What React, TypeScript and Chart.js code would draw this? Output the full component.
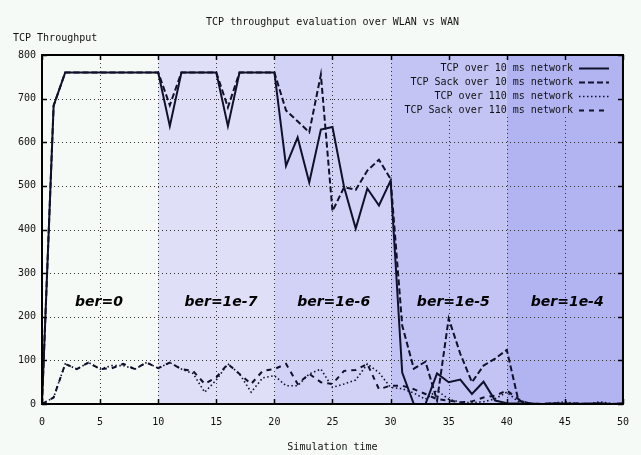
import React, { useEffect, useRef } from "react";
import { Chart, registerables } from "chart.js";

Chart.register(...registerables);

// ---- data ----
const timeX = [0,1,2,3,4,5,6,7,8,9,10,11,12,13,14,15,16,17,18,19,20,21,22,23,24,25,26,27,28,29,30,31,32,33,34,35,36,37,38,39,40,41,42,43,44,45,46,47,48,49,50];
const tcp10 =   [0,684,760,760,760,760,760,760,760,760,760,637,760,760,760,760,637,760,760,760,760,546,611,508,629,635,497,402,494,455,512,72,0,0,70,50,56,23,51,8,2,1,1,0,1,1,0,1,1,0,1];
const sack10 =  [0,684,760,760,760,760,760,760,760,760,760,685,760,760,760,760,680,760,760,760,760,673,648,623,755,442,497,491,535,560,516,180,81,97,8,196,115,50,88,104,124,8,1,0,1,0,1,0,1,0,1];
const tcp110 =  [0,15,92,80,95,80,88,88,80,95,82,95,80,70,27,55,92,69,27,60,65,42,42,69,80,38,46,55,92,72,38,35,25,11,31,11,4,3,5,12,27,5,1,0,2,5,1,0,5,1,0];
const sack110 = [0,15,92,80,95,80,82,92,80,95,82,95,80,76,46,61,92,69,46,76,80,92,46,69,50,46,76,78,92,34,42,42,34,23,11,8,4,6,15,19,31,11,0,0,1,0,1,0,1,0,0];

const seriesNames = [
  "TCP over 10 ms network",
  "TCP Sack over 10 ms network",
  "TCP over 110 ms network",
  "TCP Sack over 110 ms network",
];

const berLabels = ["ber=0", "ber=1e-7", "ber=1e-6", "ber=1e-5", "ber=1e-4"];
const berEdges = [0, 10, 20, 30, 40, 50];
const berLabelX = [4.9, 15.4, 25.1, 35.4, 45.2];
const berLabelY = 232;

const xTicks = [0, 5, 10, 15, 20, 25, 30, 35, 40, 45, 50];
const yTicks = [0, 100, 200, 300, 400, 500, 600, 700, 800];

const titleText = "TCP throughput evaluation over WLAN vs WAN";
const yTitleText = "TCP Throughput";
const xTitleText = "Simulation time";

// ---- styles ----
const BG = "#f5faf7";
const bandColors = ["#f5faf7", "#dfe0f7", "#d1d2f6", "#c3c4f4", "#b2b4f2"];
const LINE = "#10102a";
const dashes = [[], [6, 3], [1.5, 2.5], [5, 5]];
const widths = [2, 2, 1.6, 2];
const MONO = "'DejaVu Sans Mono', monospace";
const LEG = { left: 396, bottom: 117, textRight: 573, x0: 579, x1: 609, y0: 68, dy: 14 };

const decor = {
  id: "decor",
  beforeDraw(chart: any) {
    const { ctx, chartArea: a, scales } = chart;
    const x = scales.x, y = scales.y;
    ctx.save();
    ctx.fillStyle = BG;
    ctx.fillRect(0, 0, chart.width, chart.height);
    for (let i = 0; i < berEdges.length - 1; i++) {
      const x0 = x.getPixelForValue(berEdges[i]);
      const x1 = x.getPixelForValue(berEdges[i + 1]);
      ctx.fillStyle = bandColors[i];
      ctx.fillRect(x0, a.top, x1 - x0, a.bottom - a.top);
    }
    // dotted grid (kept clear of the key area)
    ctx.strokeStyle = "#333";
    ctx.lineWidth = 1;
    ctx.setLineDash([1, 3]);
    for (const v of xTicks) {
      if (v === xTicks[0] || v === xTicks[xTicks.length - 1]) continue;
      const px = Math.round(x.getPixelForValue(v)) + 0.5;
      const top = px > LEG.left ? LEG.bottom : a.top;
      ctx.beginPath();
      ctx.moveTo(px, top);
      ctx.lineTo(px, a.bottom);
      ctx.stroke();
    }
    for (const v of yTicks) {
      if (v === yTicks[0] || v === yTicks[yTicks.length - 1]) continue;
      const py = Math.round(y.getPixelForValue(v)) + 0.5;
      const right = py < LEG.bottom ? LEG.left - 4 : a.right;
      ctx.beginPath();
      ctx.moveTo(a.left, py);
      ctx.lineTo(right, py);
      ctx.stroke();
    }
    ctx.setLineDash([]);
    // texts
    ctx.fillStyle = "#111";
    ctx.font = "10px " + MONO;
    ctx.textBaseline = "middle";
    ctx.textAlign = "center";
    ctx.fillText(titleText, (a.left + a.right) / 2, 22);
    ctx.fillText(xTitleText, (a.left + a.right) / 2, 447);
    ctx.textAlign = "left";
    ctx.fillText(yTitleText, 13, 38);
    ctx.restore();
  },
  afterDatasetsDraw(chart: any) {
    const { ctx, chartArea: a, scales } = chart;
    const x = scales.x, y = scales.y;
    ctx.save();
    // tick marks
    ctx.strokeStyle = "#000";
    ctx.lineWidth = 1.5;
    const tl = 5;
    for (const v of xTicks) {
      const px = Math.round(x.getPixelForValue(v)) + 0.5;
      ctx.beginPath();
      ctx.moveTo(px, a.bottom);
      ctx.lineTo(px, a.bottom - tl);
      ctx.moveTo(px, a.top);
      ctx.lineTo(px, a.top + tl);
      ctx.stroke();
    }
    for (const v of yTicks) {
      const py = Math.round(y.getPixelForValue(v)) + 0.5;
      ctx.beginPath();
      ctx.moveTo(a.left, py);
      ctx.lineTo(a.left + tl, py);
      ctx.moveTo(a.right, py);
      ctx.lineTo(a.right - tl, py);
      ctx.stroke();
    }
    // border
    ctx.lineWidth = 2;
    ctx.strokeRect(a.left, a.top, a.right - a.left, a.bottom - a.top);
    // ber labels
    ctx.fillStyle = "#000";
    ctx.font = "italic bold 14px 'DejaVu Sans', sans-serif";
    ctx.textAlign = "center";
    ctx.textBaseline = "middle";
    berLabels.forEach((t, i) => {
      ctx.fillText(t, x.getPixelForValue(berLabelX[i]), y.getPixelForValue(berLabelY));
    });
    // legend
    ctx.font = "10px " + MONO;
    ctx.textAlign = "right";
    ctx.fillStyle = "#111";
    seriesNames.forEach((t, i) => {
      const ly = LEG.y0 + i * LEG.dy;
      ctx.fillText(t, LEG.textRight, ly);
      ctx.strokeStyle = LINE;
      ctx.lineWidth = widths[i];
      ctx.setLineDash(dashes[i]);
      ctx.beginPath();
      ctx.moveTo(LEG.x0, ly + 0.5);
      ctx.lineTo(LEG.x1, ly + 0.5);
      ctx.stroke();
    });
    ctx.setLineDash([]);
    ctx.restore();
  },
};

export default function App() {
  const ref = useRef<HTMLCanvasElement | null>(null);
  useEffect(() => {
    if (!ref.current) return;
    const all = [tcp10, sack10, tcp110, sack110];
    const chart = new Chart(ref.current, {
      type: "line",
      data: {
        datasets: all.map((arr, i) => ({
          label: seriesNames[i],
          data: timeX.map((t, k) => ({ x: t, y: arr[k] })),
          borderColor: LINE,
          borderWidth: widths[i],
          borderDash: dashes[i],
          pointRadius: 0,
          tension: 0,
          fill: false,
        })),
      },
      options: {
        animation: false,
        responsive: false,
        maintainAspectRatio: false,
        layout: { padding: { top: 55, right: 18, left: 0, bottom: 0 } },
        plugins: {
          legend: { display: false },
          title: { display: false },
          tooltip: { enabled: false },
        },
        scales: {
          x: {
            type: "linear",
            min: 0,
            max: 50,
            afterFit: (s: any) => { s.height = 51; },
            afterBuildTicks: (s: any) => { s.ticks = xTicks.map((v) => ({ value: v })); },
            grid: { display: false, drawTicks: false },
            border: { display: false },
            ticks: { color: "#111", padding: 12, maxRotation: 0, autoSkip: false, font: { family: MONO, size: 10 } },
          },
          y: {
            type: "linear",
            min: 0,
            max: 800,
            afterFit: (s: any) => { s.width = 42; },
            afterBuildTicks: (s: any) => { s.ticks = yTicks.map((v) => ({ value: v })); },
            grid: { display: false, drawTicks: false },
            border: { display: false },
            ticks: { color: "#111", padding: 6, font: { family: MONO, size: 10 } },
          },
        },
      },
      plugins: [decor],
    });
    return () => chart.destroy();
  }, []);
  return (
    <div style={{ position: "absolute", left: 0, top: 0, width: 641, height: 455 }}>
      <canvas ref={ref} width={641} height={455} style={{ width: 641, height: 455, display: "block" }} />
    </div>
  );
}
